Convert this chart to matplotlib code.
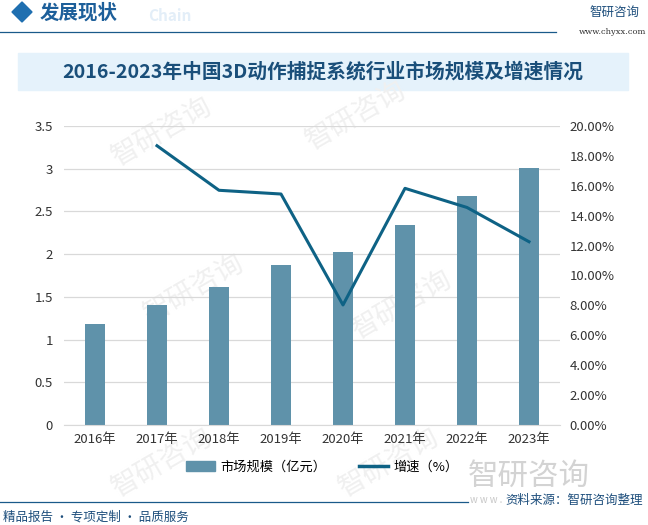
import matplotlib
matplotlib.use("Agg")
import matplotlib.pyplot as plt
from matplotlib.patches import Rectangle, Polygon
from matplotlib.lines import Line2D
from matplotlib.ticker import FuncFormatter

plt.rcParams['font.family'] = ['Noto Sans CJK SC', 'DejaVu Sans']

years = ['2016年', '2017年', '2018年', '2019年', '2020年', '2021年', '2022年', '2023年']
market_size = [1.18, 1.40, 1.62, 1.87, 2.02, 2.34, 2.68, 3.01]
growth_years = years[1:]
growth_rate = [18.68, 15.70, 15.45, 8.03, 15.83, 14.55, 12.26]

bar_color = '#5f92aa'
line_color = '#0e6285'
dark_blue = '#1a5a8a'

fig = plt.figure(figsize=(6.48, 5.25), dpi=100)

# header
fig.add_artist(Polygon([(12/648, 1-12/525), (22/648, 1-2/525), (32/648, 1-12/525), (22/648, 1-22/525)],
                       closed=True, transform=fig.transFigure, color='#1f6fb0'))
fig.text(40/648, 1-13/525, '发展现状', fontsize=14, fontweight='bold', color='#1d5f9a', va='center')
fig.text(148/648, 1-16/525, 'Chain', fontsize=11, fontweight='bold', color='#e3eef8', va='center')
fig.add_artist(Line2D([0, 556/648], [1-32/525, 1-32/525], transform=fig.transFigure, color=dark_blue, lw=0.9))
fig.text(590/648, 1-12/525, '智研咨询', fontsize=9, color='#1d4e7c', va='center')
fig.text(646/648, 1-32/525, 'www.chyxx.com', fontsize=6, color='#333333', va='center', ha='right',
         family='DejaVu Serif')

# title band
fig.add_artist(Rectangle((18/648, 1-90/525), 610/648, 37/525, transform=fig.transFigure,
                         color='#e5f2fb', zorder=-2))
fig.text(323/648, 1-72/525, '2016-2023年中国3D动作捕捉系统行业市场规模及增速情况',
         fontsize=14.2, fontweight='bold', color='#1a4f7a', ha='center', va='center')

# faint watermarks behind everything
for wx, wy in [(0.25, 0.75), (0.55, 0.78), (0.3, 0.45), (0.62, 0.42), (0.25, 0.12), (0.6, 0.12)]:
    fig.text(wx, wy, '智研咨询', fontsize=20, color='#f0f0f0', rotation=30, ha='center', va='center', zorder=-1)

ax = fig.add_axes([64/648, 1-425/525, 496/648, 299/525])
ax.patch.set_visible(False)
x = range(len(years))
ax.bar(x, market_size, width=0.32, color=bar_color, zorder=2)
ax.set_ylim(0, 3.5)
ax.set_yticks([0, 0.5, 1, 1.5, 2, 2.5, 3, 3.5])
ax.yaxis.set_major_formatter(FuncFormatter(lambda v, p: f'{v:g}'))
ax.set_xlim(-0.5, len(years) - 0.5)
ax.set_xticks(list(x))
ax.set_xticklabels(years)
ax.grid(axis='y', color='#d9d9d9', lw=0.9, zorder=0)
for s in ax.spines.values():
    s.set_visible(False)
ax.spines['bottom'].set_visible(True)
ax.spines['bottom'].set_color('#d9d9d9')
ax.tick_params(axis='both', length=0, labelsize=9.5, colors='#333333')
ax.tick_params(axis='y', pad=8)
ax.tick_params(axis='x', pad=6)

ax2 = ax.twinx()
ax2.patch.set_visible(False)
gx = [years.index(y) for y in growth_years]
ax2.plot(gx, growth_rate, color=line_color, lw=2.2, zorder=3)
ax2.set_ylim(0, 20)
ax2.set_yticks(range(0, 21, 2))
ax2.yaxis.set_major_formatter(FuncFormatter(lambda v, p: f'{v:.2f}%'))
for s in ax2.spines.values():
    s.set_visible(False)
ax2.tick_params(axis='y', length=0, labelsize=9.5, colors='#333333', pad=7)

# legend
handles = [Rectangle((0, 0), 1, 1, color=bar_color), Line2D([], [], color=line_color, lw=2.5)]
fig.legend(handles, ['市场规模（亿元）', '增速（%）'], loc='center', bbox_to_anchor=(322/648, 1-467/525),
           ncol=2, frameon=False, fontsize=9.5, handlelength=2.2, columnspacing=2.5, handletextpad=0.4)

# bottom-right watermark
fig.text(468/648, 1-476/525, '智研咨询', fontsize=22, color='#c8c8c8', va='center', alpha=0.8)
fig.text(470/648, 1-500/525, 'w w w .', fontsize=7, color='#c8c8c8', va='center')

# footer
fig.add_artist(Line2D([0, 468/648], [1-502/525, 1-502/525], transform=fig.transFigure, color=dark_blue, lw=0.9))
fig.text(505/648, 1-500/525, '资料来源：智研咨询整理', fontsize=9, color='#1d4e7c', va='center')
fig.text(3/648, 1-517/525, '精品报告 · 专项定制 · 品质服务', fontsize=9, color='#1d4e7c', va='center')

fig.savefig('out.png', dpi=100)
